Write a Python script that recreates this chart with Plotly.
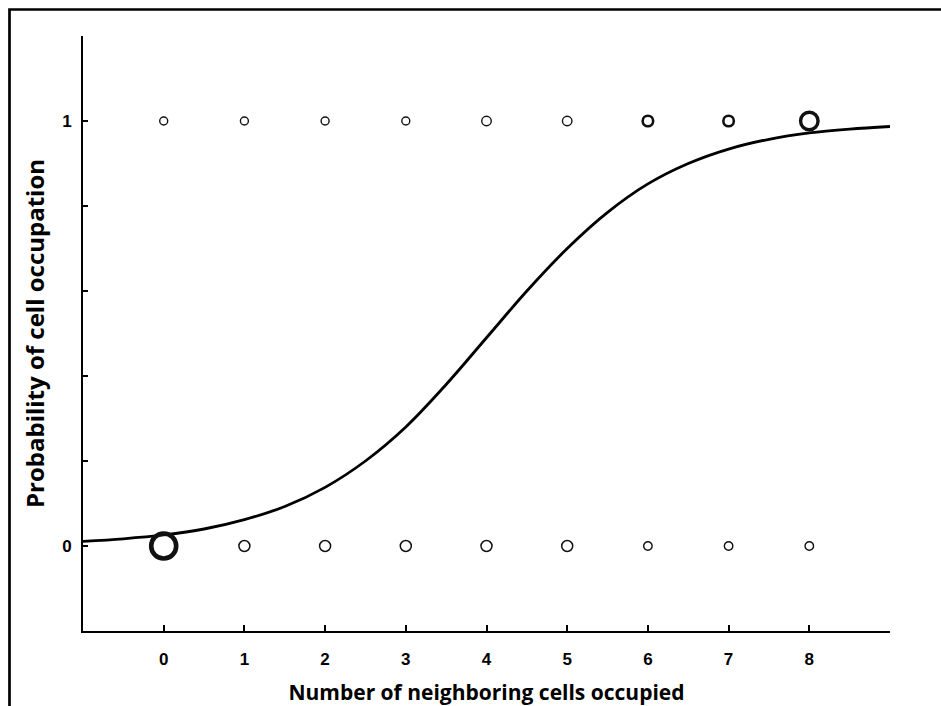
import plotly.graph_objects as go

# ---- data ----
neighbors = [0, 1, 2, 3, 4, 5, 6, 7, 8]
occupied_y = [1, 1, 1, 1, 1, 1, 1, 1, 1]
empty_y = [0, 0, 0, 0, 0, 0, 0, 0, 0]

# relative circle sizes (marker diameter) and outline widths
occupied_size = [8, 8, 8, 8, 9.5, 9.5, 10.5, 10.5, 17.5]
occupied_lw = [1.4, 1.4, 1.4, 1.4, 1.4, 1.4, 2.6, 2.6, 3.4]
empty_size = [25, 11, 11, 11, 11, 11, 8.5, 8.5, 8.5]
empty_lw = [4.6, 1.5, 1.5, 1.5, 1.5, 1.5, 1.4, 1.4, 1.4]

# fitted curve, values
curve_x = [-1, -0.5, 0, 0.5, 1, 1.5, 2, 2.5, 3, 3.5, 4, 4.5, 5, 5.5, 6, 6.5, 7, 7.5, 8, 8.5, 9]
curve_p = [0.011, 0.017, 0.026, 0.040, 0.062, 0.093, 0.138, 0.200, 0.280, 0.380, 0.490,
           0.600, 0.700, 0.785, 0.852, 0.900, 0.934, 0.957, 0.972, 0.981, 0.987]

x_tickvals = [0, 1, 2, 3, 4, 5, 6, 7, 8, 9]
x_ticktext = ["0", "1", "2", "3", "4", "5", "6", "7", "8", ""]
y_tickvals = [-0.2, 0, 0.2, 0.4, 0.6, 0.8, 1.0, 1.2]
y_ticktext = ["", "0", "", "", "", "", "1", ""]

fig = go.Figure()

fig.add_trace(go.Scatter(
    x=curve_x, y=curve_p, mode="lines",
    line=dict(color="black", width=2.8, shape="spline", smoothing=1.0),
    hoverinfo="skip", showlegend=False,
))

fig.add_trace(go.Scatter(
    x=neighbors, y=occupied_y, mode="markers",
    marker=dict(symbol="circle", size=occupied_size, color="rgba(0,0,0,0)", opacity=1,
                line=dict(width=occupied_lw, color="#111111")),
    showlegend=False,
))
fig.add_trace(go.Scatter(
    x=neighbors, y=empty_y, mode="markers",
    marker=dict(symbol="circle", size=empty_size, color="rgba(0,0,0,0)", opacity=1,
                line=dict(width=empty_lw, color="#111111")),
    showlegend=False,
))

tickfont = dict(family="Liberation Sans", size=17, color="black", weight="bold")
xtitlefont = dict(family="Open Sans", size=21, color="black", weight="bold")
ytitlefont = dict(family="Open Sans", size=24, color="black", weight="bold")

fig.update_layout(
    width=941, height=706,
    margin=dict(l=83, r=51, t=36, b=75),
    paper_bgcolor="white", plot_bgcolor="white",
    xaxis=dict(
        range=[-1, 9], showgrid=False, zeroline=False, automargin=False,
        showline=True, linecolor="black", linewidth=1.6,
        ticks="inside", ticklen=6, tickwidth=1.6, tickcolor="black",
        tickvals=x_tickvals, ticktext=x_ticktext, tickfont=tickfont,
        ticklabelstandoff=12,
        title=dict(text="Number of neighboring cells occupied", font=xtitlefont, standoff=17),
    ),
    yaxis=dict(
        range=[-0.2, 1.2], showgrid=False, zeroline=False, automargin=False,
        showline=True, linecolor="black", linewidth=1.6,
        ticks="inside", ticklen=5, tickwidth=1.6, tickcolor="black",
        tickvals=y_tickvals, ticktext=y_ticktext, tickfont=tickfont,
        ticklabelstandoff=6,
        title=dict(text="Probability of cell occupation", font=ytitlefont, standoff=11),
    ),
    shapes=[dict(type="rect", xref="paper", yref="paper",
                 x0=(9.5 - 83) / 807, x1=1.2, y0=-0.3, y1=1 + (36 - 9.5) / 595,
                 line=dict(color="black", width=2.7), fillcolor="rgba(0,0,0,0)",
                 layer="above")],
)

fig.write_html("out.html", config={"displayModeBar": False},
               post_script="document.body.style.margin='0';")
